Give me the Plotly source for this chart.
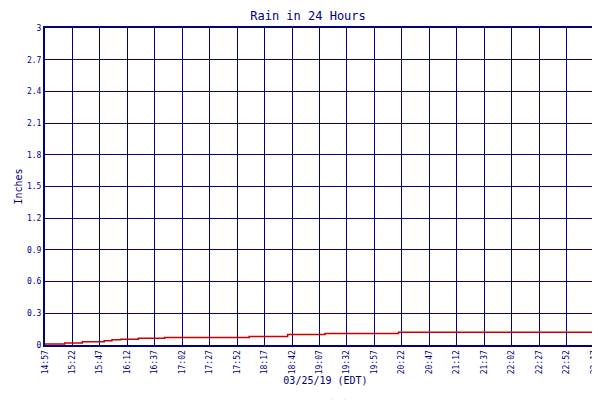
import plotly.graph_objects as go

# minutes after 14:57 where the total changes, and rain total in inches
minutes = [0, 18, 34, 54, 61, 69, 85, 109, 186, 221, 255, 322, 511]
rain = [0.01, 0.02, 0.03, 0.04, 0.05, 0.055, 0.065, 0.07, 0.08, 0.10, 0.11, 0.12, 0.12]

tick_labels = ['14:57', '15:22', '15:47', '16:12', '16:37', '17:02', '17:27', '17:52',
               '18:17', '18:42', '19:07', '19:32', '19:57', '20:22', '20:47', '21:12',
               '21:37', '22:02', '22:27', '22:52', '23:17', '23:28']
tick_pos = [i * 25 for i in range(21)] + [511]

navy = '#000080'
fnt = dict(family='DejaVu Sans Mono', size=8, color=navy)

fig = go.Figure(go.Scatter(x=minutes, y=rain, mode='lines', line_shape='hv',
                           line=dict(color='#cc0000', width=1.5), name='Rain 24 Hr'))

fig.update_layout(
    width=600, height=400,
    margin=dict(l=37, r=2, t=20, b=63, autoexpand=False),
    paper_bgcolor='white', plot_bgcolor='white',
    title=dict(text='Rain in 24 Hours', x=0.5, y=0.99, yanchor='top',
               font=dict(family='DejaVu Sans Mono', size=12, color=navy)),
    showlegend=True,
    legend=dict(orientation='h', x=0.5, xanchor='center', y=-0.18, yanchor='middle',
                font=dict(family='DejaVu Sans Mono', size=7, color=navy)),
    font=fnt,
)
fig.update_xaxes(range=[0, 511], tickvals=tick_pos, ticktext=tick_labels, tickangle=-90,
                 automargin=False,
                 showgrid=True, gridcolor=navy, gridwidth=1, showline=True, linecolor=navy,
                 linewidth=2, mirror=True, ticks='', tickfont=fnt,
                 title=dict(text='03/25/19 (EDT)', font=dict(family='DejaVu Sans Mono', size=10, color=navy), standoff=4))
fig.update_yaxes(range=[0, 3], dtick=0.3, showgrid=True, gridcolor=navy, gridwidth=1,
                 automargin=False,
                 showline=True, linecolor=navy, linewidth=2, mirror=True, ticks='', tickfont=fnt,
                 zeroline=False,
                 title=dict(text='Inches', font=dict(family='DejaVu Sans Mono', size=10, color=navy), standoff=2))

fig.write_html("out.html")
